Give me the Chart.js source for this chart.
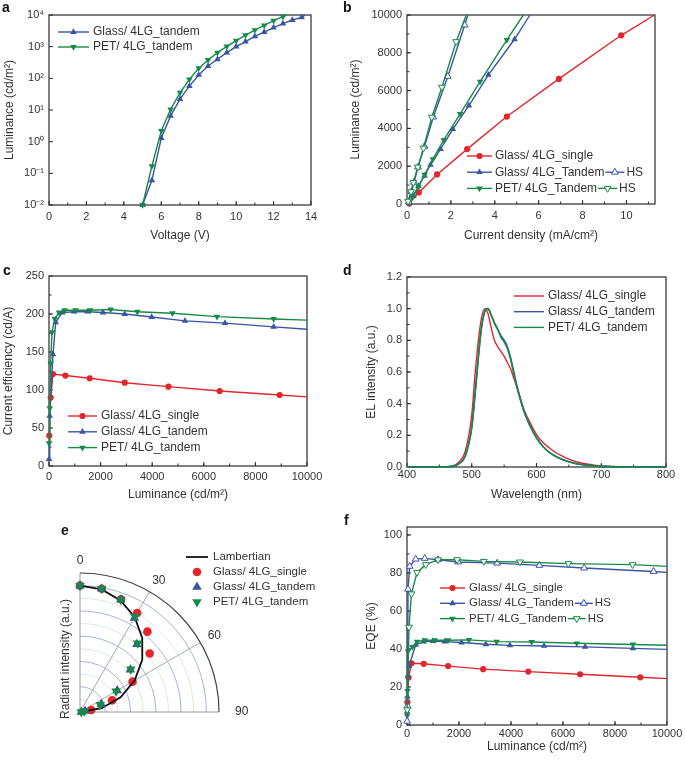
<!DOCTYPE html>
<html>
<head>
<meta charset="utf-8">
<script src="https://cdn.jsdelivr.net/npm/chart.js@4.4.0/dist/chart.umd.min.js"></script>
<style>
html, body { margin: 0; padding: 0; background: #fff; }
#fig { position: relative; width: 685px; height: 763px; overflow: hidden; font-family: "Liberation Sans", Arial, sans-serif; }
#fig canvas { position: absolute; }
.tag { position: absolute; font-weight: bold; font-size: 14px; line-height: 14px; color: #111; }
</style>
</head>
<body>
<div id="fig">
  <canvas id="chartA" width="340" height="250" style="left:0;top:0"></canvas>
  <canvas id="chartB" width="345" height="250" style="left:340px;top:0"></canvas>
  <canvas id="chartC" width="340" height="256" style="left:0;top:250px"></canvas>
  <canvas id="chartD" width="345" height="256" style="left:340px;top:250px"></canvas>
  <canvas id="chartE" width="340" height="263" style="left:0;top:500px"></canvas>
  <canvas id="chartF" width="345" height="263" style="left:340px;top:500px"></canvas>
  <div class="tag" style="left:2px;top:0">a</div>
  <div class="tag" style="left:343px;top:0">b</div>
  <div class="tag" style="left:3px;top:263px">c</div>
  <div class="tag" style="left:343px;top:263px">d</div>
  <div class="tag" style="left:61px;top:523px">e</div>
  <div class="tag" style="left:344px;top:513px">f</div>
</div>
<script>
// ---- colours ----
const RED = '#e3262d';
const BLUE = '#3a55a4';
const GREEN = '#188a48';

// ---- panel a: luminance vs voltage ----
const aVoltGlass = [5.0, 5.5, 6.0, 6.5, 7.0, 7.5, 8.0, 8.5, 9.0, 9.5, 10.0, 10.5, 11.0, 11.5, 12.0, 12.5, 13.0, 13.5, 13.7];
const aLumGlass = [0.01, 0.06, 1.3, 6.5, 22, 57, 128, 245, 400, 650, 1000, 1450, 2130, 2900, 4000, 5350, 6950, 8400, 10000];
const aVoltPet = [5.0, 5.5, 6.0, 6.5, 7.0, 7.5, 8.0, 8.5, 9.0, 9.5, 10.0, 10.5, 11.0, 11.5, 12.0, 12.5, 12.7];
const aLumPet = [0.01, 0.17, 2.2, 10.5, 35, 93, 208, 380, 650, 1020, 1550, 2300, 3350, 4700, 6600, 8900, 10000];
const aXTicks = [0, 2, 4, 6, 8, 10, 12, 14];
const aYTicks = [1e-2, 1e-1, 1, 10, 100, 1000, 10000];
const aYLabels = ['10\u207B\u00B2', '10\u207B\u00B9', '10\u2070', '10\u00B9', '10\u00B2', '10\u00B3', '10\u2074'];

// ---- panel b: luminance vs current density ----
const bJSingle = [0.1, 0.54, 1.37, 2.74, 4.55, 6.92, 9.76, 11.28];
const bLSingle = [20, 613, 1564, 2905, 4628, 6619, 8927, 10000];
const bJTandem = [0.12, 0.3, 0.52, 0.8, 1.07, 1.53, 2.09, 2.82, 3.71, 4.9, 5.6];
const bLTandem = [60, 420, 950, 1495, 2076, 2905, 3962, 5210, 6830, 8715, 10000];
const bJPet = [0.1, 0.27, 0.52, 0.8, 1.18, 1.68, 2.42, 3.33, 4.55, 5.3];
const bLPet = [50, 400, 930, 1550, 2377, 3397, 4770, 6478, 8680, 10000];
const bJTandemHS = [0.08, 0.2, 0.32, 0.5, 0.8, 1.2, 1.86, 2.63, 2.77];
const bLTandemHS = [100, 650, 1150, 1950, 3050, 4600, 6750, 9470, 10000];
const bJPetHS = [0.05, 0.18, 0.29, 0.49, 0.75, 1.13, 1.59, 2.24, 2.7];
const bLPetHS = [150, 650, 1145, 1954, 2958, 4595, 6180, 8591, 10000];
const bXTicks = [0, 2, 4, 6, 8, 10];
const bYTicks = [0, 2000, 4000, 6000, 8000, 10000];

// ---- panel c: current efficiency vs luminance ----
const cLSingle = [10, 66, 155, 636, 1578, 2934, 4628, 6616, 8942, 10000];
const cCESingle = [40, 90, 121, 119, 115.4, 109.6, 104.4, 98.7, 93.4, 91];
const cLTandem = [2, 27, 155, 260, 519, 969, 1488, 2093, 2934, 3981, 5271, 6822, 8709, 10000];
const cCETandem = [9, 66, 147, 189, 202, 203, 203, 202, 200, 196, 191, 188, 183, 180];
const cLPet = [1, 27, 66, 116, 221, 388, 609, 1035, 1604, 2391, 3426, 4783, 6512, 8709, 10000];
const cCEPet = [30, 76, 135, 176, 194, 202, 205, 205, 205, 206, 203, 201, 196.5, 193.4, 192];
const cXTicks = [0, 2000, 4000, 6000, 8000, 10000];
const cYTicks = [0, 50, 100, 150, 200, 250];

// ---- panel d: EL spectra ----
const dWave = [400, 450, 470, 480, 490, 500, 505, 510, 515, 520, 525, 530, 535, 540, 545, 550, 555, 560, 565, 570, 580, 590, 600, 610, 620, 630, 640, 650, 660, 680, 700, 740, 800];
const dSingle = [0, 0, 0.006, 0.03, 0.1, 0.33, 0.58, 0.79, 0.94, 1.0, 0.97, 0.88, 0.8, 0.76, 0.73, 0.7, 0.66, 0.62, 0.56, 0.5, 0.37, 0.28, 0.205, 0.155, 0.12, 0.09, 0.068, 0.05, 0.035, 0.017, 0.007, 0.001, 0];
const dTandem = [0, 0, 0.004, 0.02, 0.07, 0.25, 0.46, 0.69, 0.88, 0.98, 1.0, 0.96, 0.91, 0.87, 0.83, 0.8, 0.76, 0.69, 0.6, 0.51, 0.36, 0.26, 0.185, 0.13, 0.092, 0.066, 0.047, 0.033, 0.022, 0.01, 0.004, 0, 0];
const dPet = [0, 0, 0.004, 0.02, 0.07, 0.25, 0.45, 0.68, 0.88, 0.98, 1.0, 0.96, 0.91, 0.87, 0.82, 0.79, 0.75, 0.68, 0.59, 0.5, 0.36, 0.26, 0.185, 0.13, 0.092, 0.066, 0.047, 0.033, 0.022, 0.01, 0.004, 0, 0];
const dXTicks = [400, 500, 600, 700, 800];
const dYTicks = [0, 0.2, 0.4, 0.6, 0.8, 1.0, 1.2];

// ---- panel e: angular distribution ----
const eAngles = [0, 10, 20, 30, 40, 50, 60, 70, 80, 90];
const eLambertian = [1.0, 0.985, 0.94, 0.866, 0.766, 0.643, 0.5, 0.342, 0.174, 0];
const eSingle = [1.0, 0.99, 0.95, 0.905, 0.83, 0.72, 0.48, 0.27, 0.09];
const eTandem = [1.0, 0.99, 0.945, 0.86, 0.7, 0.52, 0.34, 0.18, 0.04, 0.01];
const ePet = [1.0, 0.99, 0.945, 0.87, 0.71, 0.525, 0.33, 0.17, 0.035, 0.01];
const eMajorRings = [0.2, 0.4, 0.6, 0.8, 1.0];
const eMinorRings = [0.1, 0.3, 0.5, 0.7, 0.9];
const eOuter = 1.1;
const eAngleLabels = [0, 30, 60, 90];

// ---- panel f: EQE vs luminance ----
const fLSingle = [15, 60, 170, 644, 1581, 2930, 4666, 6658, 8972, 10000];
const fEQESingle = [12, 25, 32.5, 32.2, 31, 29.4, 28.1, 26.7, 25.1, 24.4];
const fLTandem = [5, 15, 40, 77, 335, 644, 1003, 1453, 2097, 3034, 3959, 5270, 6851, 8689, 10000];
const fEQETandem = [7, 15, 26, 31, 42.2, 43.9, 44.2, 43.9, 43.4, 42.5, 41.9, 41.6, 41.1, 40.3, 39.8];
const fLPet = [5, 20, 40, 207, 385, 682, 1068, 1581, 2379, 3446, 4794, 6530, 8689, 10000];
const fEQEPet = [5, 18, 38.8, 41.1, 43.9, 44.6, 44.6, 44.6, 44.8, 43.9, 43.7, 43.0, 42.4, 42];
const fLTandemHS = [5, 20, 39, 103, 334, 681, 1195, 1967, 3470, 5090, 6812, 9486, 10000];
const fEQETandemHS = [2, 10, 71.5, 83.5, 87.3, 87.7, 87, 85.8, 85.2, 84, 82.6, 80.8, 80.3];
const fLPetHS = [5, 77, 170, 386, 720, 1195, 1928, 2956, 4344, 6208, 8676, 10000];
const fEQEPetHS = [8, 51.5, 69, 80.3, 84.4, 87, 87, 86.1, 85.8, 84.9, 84.4, 83.5];
const fXTicks = [0, 2000, 4000, 6000, 8000, 10000];
const fYTicks = [0, 20, 40, 60, 80, 100];

// ---- markers ----
const mCircle = { style: 'circle', r: 3.1 };
const mUp = { style: 'triangle', r: 3.8 };
const mDown = { style: 'triangle', rot: 180, r: 3.8 };
const mUpOpen = { style: 'triangle', r: 3.9, open: true };
const mDownOpen = { style: 'triangle', rot: 180, r: 3.9, open: true };

const FONT = '"Liberation Sans", Arial, sans-serif';
Chart.defaults.font.family = FONT;
Chart.defaults.color = '#333';

function xy(xs, ys) {
    return xs.map((x, i) => ({ x, y: ys[i] }));
}

// line + marker series; tail = last point only continues the line to the frame
function series(xs, ys, color, marker, tail) {
    const n = xs.length;
    return {
        data: xy(xs, ys),
        showLine: true,
        borderColor: color,
        borderWidth: 1.4,
        backgroundColor: marker ? (marker.open ? '#fff' : color) : color,
        pointBackgroundColor: marker ? (marker.open ? '#fff' : color) : color,
        pointBorderColor: color,
        pointBorderWidth: marker && marker.open ? 1 : 0,
        pointStyle: marker ? (marker.style === 'circle' ? 'circle' : 'triangle') : 'circle',
        pointRotation: marker && marker.rot ? marker.rot : 0,
        pointRadius: ctx => (!marker || (tail && ctx.dataIndex === n - 1)) ? 0 : marker.r,
        clip: false
    };
}

function drawMarker(ctx, m, x, y, color) {
    ctx.save();
    ctx.fillStyle = m.open ? '#fff' : color;
    ctx.strokeStyle = color;
    ctx.lineWidth = 1;
    ctx.beginPath();
    if (m.style === 'circle') {
        ctx.arc(x, y, m.r, 0, Math.PI * 2);
    } else {
        let a = (m.rot || 0) * Math.PI / 180;
        for (let k = 0; k < 3; k++) {
            const px = x + Math.sin(a) * m.r, py = y - Math.cos(a) * m.r;
            if (k === 0) ctx.moveTo(px, py); else ctx.lineTo(px, py);
            a += Math.PI * 2 / 3;
        }
        ctx.closePath();
    }
    ctx.fill();
    if (m.open) ctx.stroke();
    ctx.restore();
}

function drawKey(ctx, it, x, y, len) {
    if (it.line !== false) {
        ctx.strokeStyle = it.color;
        ctx.lineWidth = it.lw || 1.4;
        ctx.beginPath();
        ctx.moveTo(x, y);
        ctx.lineTo(x + len, y);
        ctx.stroke();
    }
    if (it.marker) drawMarker(ctx, it.marker, x + len / 2, y, it.color);
    return x + len;
}

// box frame with inward ticks on bottom and left axes
const axisFrame = {
    id: 'axisFrame',
    beforeDatasetsDraw(chart, args, opts) {
        if (!opts || !opts.enabled) return;
        const { ctx, chartArea: ca } = chart;
        const xs = chart.scales.x, ys = chart.scales.y;
        ctx.save();
        ctx.strokeStyle = '#2b2b2b';
        ctx.lineWidth = 1.2;
        ctx.strokeRect(ca.left, ca.top, ca.right - ca.left, ca.bottom - ca.top);
        ctx.lineWidth = 1;
        ctx.beginPath();
        xs.ticks.forEach(t => {
            const px = xs.getPixelForValue(t.value);
            ctx.moveTo(px, ca.bottom);
            ctx.lineTo(px, ca.bottom - 4);
        });
        if (opts.xMinor) {
            for (let v = xs.min + opts.xMinor; v < xs.max; v += opts.xMinor) {
                const px = xs.getPixelForValue(v);
                ctx.moveTo(px, ca.bottom);
                ctx.lineTo(px, ca.bottom - 2.5);
            }
        }
        ys.ticks.forEach(t => {
            const py = ys.getPixelForValue(t.value);
            ctx.moveTo(ca.left, py);
            ctx.lineTo(ca.left + 4, py);
        });
        if (opts.yMinor) {
            for (let v = ys.min + opts.yMinor; v < ys.max; v += opts.yMinor) {
                const py = ys.getPixelForValue(v);
                ctx.moveTo(ca.left, py);
                ctx.lineTo(ca.left + 2.5, py);
            }
        }
        ctx.stroke();
        ctx.restore();
    }
};

// legend drawn inside the plot, positions in canvas pixels
const panelLegend = {
    id: 'panelLegend',
    afterDatasetsDraw(chart, args, opts) {
        if (!opts || !opts.items) return;
        const { ctx } = chart;
        ctx.save();
        ctx.font = `${opts.fontSize || 12}px ${FONT}`;
        ctx.textBaseline = 'middle';
        opts.items.forEach((it, i) => {
            const y = opts.y + i * opts.rowH;
            const x = drawKey(ctx, it, opts.x, y, opts.lineLen);
            ctx.fillStyle = '#333';
            ctx.fillText(it.label, x + opts.gap, y);
            if (it.suffix) {
                const sx = x + opts.gap + ctx.measureText(it.label).width + 1;
                const ex = drawKey(ctx, it.suffix, sx, y, opts.suffixLen);
                ctx.fillStyle = '#333';
                ctx.fillText(it.suffix.label, ex + 2, y);
            }
        });
        ctx.restore();
    }
};

Chart.register(axisFrame, panelLegend);

function numLabel(v) {
    return String(v);
}

function panelConfig(p) {
    return {
        type: 'scatter',
        data: { datasets: p.datasets },
        options: {
            responsive: false,
            animation: false,
            devicePixelRatio: 1,
            layout: { padding: { left: 0, top: p.top, right: p.right, bottom: 0 } },
            plugins: {
                legend: { display: false },
                tooltip: { enabled: false },
                axisFrame: { enabled: true, xMinor: p.xMinor, yMinor: p.yMinor },
                panelLegend: p.legend
            },
            scales: {
                x: {
                    type: 'linear',
                    min: p.xMin,
                    max: p.xMax,
                    afterBuildTicks: s => { s.ticks = p.xTicks.map(v => ({ value: v })); },
                    afterFit: s => { s.height = p.xAxisH; },
                    grid: { display: false, drawTicks: false },
                    border: { display: false },
                    ticks: { font: { size: 11 }, color: '#333', padding: p.xTickPad, maxRotation: 0, autoSkip: false, callback: numLabel },
                    title: { display: true, text: p.xTitle, font: { size: 12 }, color: '#333', padding: { top: 0, bottom: p.xTitlePad } }
                },
                y: {
                    type: p.yType || 'linear',
                    min: p.yMin,
                    max: p.yMax,
                    afterBuildTicks: s => { s.ticks = p.yTicks.map(v => ({ value: v })); },
                    afterFit: s => { s.width = p.yAxisW; },
                    grid: { display: false, drawTicks: false },
                    border: { display: false },
                    ticks: { font: { size: 11 }, color: '#333', padding: 5, autoSkip: false, callback: p.yLabel || numLabel },
                    title: { display: true, text: p.yTitle, font: { size: 12 }, color: '#333', padding: { top: p.yTitlePad, bottom: 0 } }
                }
            }
        }
    };
}

// panel a
new Chart(document.getElementById('chartA'), panelConfig({
    datasets: [
        series(aVoltPet, aLumPet, GREEN, mDown, true),
        series(aVoltGlass, aLumGlass, BLUE, mUp, true)
    ],
    top: 15, right: 29, yAxisW: 49, xAxisH: 45,
    xMin: 0, xMax: 14, xTicks: aXTicks, xMinor: 1, xTickPad: 5,
    yType: 'logarithmic', yMin: 0.01, yMax: 10000, yTicks: aYTicks,
    yLabel: (v, i) => aYLabels[i],
    xTitle: 'Voltage (V)', xTitlePad: 7,
    yTitle: 'Luminance (cd/m\u00B2)', yTitlePad: 2,
    legend: {
        x: 58, y: 32, rowH: 15, lineLen: 31, gap: 4, fontSize: 12,
        items: [
            { label: 'Glass/ 4LG_tandem', color: BLUE, marker: mUp },
            { label: 'PET/ 4LG_tandem', color: GREEN, marker: mDown }
        ]
    }
}));

// panel b
new Chart(document.getElementById('chartB'), panelConfig({
    datasets: [
        series(bJPetHS, bLPetHS, GREEN, mDownOpen, true),
        series(bJTandemHS, bLTandemHS, BLUE, mUpOpen, true),
        series(bJPet, bLPet, GREEN, mDown, true),
        series(bJTandem, bLTandem, BLUE, mUp, true),
        series(bJSingle, bLSingle, RED, mCircle, true)
    ],
    top: 15, right: 30, yAxisW: 67, xAxisH: 46,
    xMin: 0, xMax: 11.3, xTicks: bXTicks, xMinor: 1, xTickPad: 5,
    yMin: 0, yMax: 10000, yTicks: bYTicks, yMinor: 1000,
    xTitle: 'Current density (mA/cm\u00B2)', xTitlePad: 7,
    yTitle: 'Luminance (cd/m\u00B2)', yTitlePad: 8,
    legend: {
        x: 127, y: 156, rowH: 16.2, lineLen: 25, gap: 3, fontSize: 12, suffixLen: 19,
        items: [
            { label: 'Glass/ 4LG_single', color: RED, marker: mCircle },
            { label: 'Glass/ 4LG_Tandem', color: BLUE, marker: mUp,
              suffix: { label: 'HS', color: BLUE, marker: mUpOpen } },
            { label: 'PET/ 4LG_Tandem', color: GREEN, marker: mDown,
              suffix: { label: 'HS', color: GREEN, marker: mDownOpen } }
        ]
    }
}));

// panel c
new Chart(document.getElementById('chartC'), panelConfig({
    datasets: [
        series(cLPet, cCEPet, GREEN, mDown, true),
        series(cLTandem, cCETandem, BLUE, mUp, true),
        series(cLSingle, cCESingle, RED, mCircle, true)
    ],
    top: 26, right: 33, yAxisW: 49, xAxisH: 40,
    xMin: 0, xMax: 10000, xTicks: cXTicks, xMinor: 1000, xTickPad: 4,
    yMin: 0, yMax: 250, yTicks: cYTicks, yMinor: 25,
    xTitle: 'Luminance (cd/m\u00B2)', xTitlePad: 4,
    yTitle: 'Current efficiency (cd/A)', yTitlePad: 1,
    legend: {
        x: 68, y: 166, rowH: 15.8, lineLen: 29, gap: 4, fontSize: 12,
        items: [
            { label: 'Glass/ 4LG_single', color: RED, marker: mCircle },
            { label: 'Glass/ 4LG_tandem', color: BLUE, marker: mUp },
            { label: 'PET/ 4LG_tandem', color: GREEN, marker: mDown }
        ]
    }
}));

// panel d
new Chart(document.getElementById('chartD'), panelConfig({
    datasets: [
        Object.assign(series(dWave, dPet, GREEN, null, false), { borderWidth: 1.6, cubicInterpolationMode: 'monotone' }),
        Object.assign(series(dWave, dTandem, BLUE, null, false), { borderWidth: 1.6, cubicInterpolationMode: 'monotone' }),
        Object.assign(series(dWave, dSingle, RED, null, false), { borderWidth: 1.4, cubicInterpolationMode: 'monotone' })
    ],
    top: 27, right: 19, yAxisW: 67, xAxisH: 39,
    xMin: 400, xMax: 800, xTicks: dXTicks, xMinor: 50, xTickPad: 1,
    yMin: 0, yMax: 1.2, yTicks: dYTicks, yMinor: 0.1,
    yLabel: v => v.toFixed(1),
    xTitle: 'Wavelength (nm)', xTitlePad: 4,
    yTitle: 'EL intensity (a.u.)', yTitlePad: 24,
    legend: {
        x: 174, y: 46, rowH: 15.7, lineLen: 30, gap: 4, fontSize: 12,
        items: [
            { label: 'Glass/ 4LG_single', color: RED },
            { label: 'Glass/ 4LG_tandem', color: BLUE },
            { label: 'PET/ 4LG_tandem', color: GREEN }
        ]
    }
}));

// panel f (tick spacing in the original leaves some room above 100)
new Chart(document.getElementById('chartF'), panelConfig({
    datasets: [
        series(fLPetHS, fEQEPetHS, GREEN, mDownOpen, true),
        series(fLTandemHS, fEQETandemHS, BLUE, mUpOpen, true),
        series(fLPet, fEQEPet, GREEN, mDown, true),
        series(fLTandem, fEQETandem, BLUE, mUp, true),
        series(fLSingle, fEQESingle, RED, mCircle, true)
    ],
    top: 27, right: 18, yAxisW: 67, xAxisH: 38,
    xMin: 0, xMax: 10000, xTicks: fXTicks, xMinor: 1000, xTickPad: 2,
    yMin: 0, yMax: 104.2, yTicks: fYTicks, yMinor: 10,
    xTitle: 'Luminance (cd/m\u00B2)', xTitlePad: 9,
    yTitle: 'EQE (%)', yTitlePad: 24,
    legend: {
        x: 100, y: 88, rowH: 15.3, lineLen: 25, gap: 4, fontSize: 11.5, suffixLen: 18,
        items: [
            { label: 'Glass/ 4LG_single', color: RED, marker: mCircle },
            { label: 'Glass/ 4LG_Tandem', color: BLUE, marker: mUp,
              suffix: { label: 'HS', color: BLUE, marker: mUpOpen } },
            { label: 'PET/ 4LG_Tandem', color: GREEN, marker: mDown,
              suffix: { label: 'HS', color: GREEN, marker: mDownOpen } }
        ]
    }
}));

// panel e: quarter polar plot drawn on a square scatter area
function polarPoints(radii) {
    return radii.map((r, i) => {
        const a = eAngles[i] * Math.PI / 180;
        return { x: r * Math.sin(a), y: r * Math.cos(a) };
    });
}

const eRed = { style: 'circle', r: 4.3 };
const eUp = { style: 'triangle', r: 5.5 };
const eDown = { style: 'triangle', rot: 180, r: 5.5 };

const polarGrid = {
    id: 'polarGrid',
    beforeDatasetsDraw(chart) {
        const { ctx } = chart;
        const xs = chart.scales.x, ys = chart.scales.y;
        const cx = xs.getPixelForValue(0), cy = ys.getPixelForValue(0);
        const rad = r => xs.getPixelForValue(r) - cx;
        const ring = (r, color, lw) => {
            ctx.strokeStyle = color;
            ctx.lineWidth = lw;
            ctx.beginPath();
            ctx.arc(cx, cy, rad(r), -Math.PI / 2, 0);
            ctx.stroke();
        };
        const spoke = (deg, color) => {
            const a = deg * Math.PI / 180, R = rad(eOuter);
            ctx.strokeStyle = color;
            ctx.lineWidth = 1;
            ctx.beginPath();
            ctx.moveTo(cx, cy);
            ctx.lineTo(cx + Math.sin(a) * R, cy - Math.cos(a) * R);
            ctx.stroke();
        };
        ctx.save();
        eMinorRings.forEach(r => ring(r, '#d3e3d3', 0.8));
        eMajorRings.forEach(r => ring(r, '#9aabd3', 0.9));
        spoke(30, '#a8a8a8');
        spoke(60, '#a8a8a8');
        spoke(0, '#9a9a9a');
        spoke(90, '#9a9a9a');
        ring(eOuter, '#444', 1.2);
        ctx.fillStyle = '#333';
        ctx.font = `12px ${FONT}`;
        ctx.textAlign = 'center';
        ctx.textBaseline = 'middle';
        eAngleLabels.forEach(deg => {
            const a = deg * Math.PI / 180, R = rad(1.2);
            const dx = deg === 90 ? 10 : (deg === 0 ? 0 : 3);
            ctx.fillText(String(deg), cx + Math.sin(a) * R + dx, cy - Math.cos(a) * R);
        });
        ctx.save();
        ctx.translate(cx - 14, cy - rad(0.42));
        ctx.rotate(-Math.PI / 2);
        ctx.fillText('Radiant intensity (a.u.)', 0, 0);
        ctx.restore();
        ctx.restore();
    }
};

function polarSeries(radii, color, m) {
    return {
        data: polarPoints(radii),
        showLine: false,
        pointStyle: m.style === 'circle' ? 'circle' : 'triangle',
        pointRotation: m.rot || 0,
        pointRadius: m.r,
        pointBackgroundColor: color,
        pointBorderWidth: 0,
        clip: false
    };
}

new Chart(document.getElementById('chartE'), {
    type: 'scatter',
    data: {
        datasets: [
            polarSeries(ePet, GREEN, eDown),
            polarSeries(eTandem, BLUE, eUp),
            { data: polarPoints(eLambertian), showLine: true, borderColor: '#111', borderWidth: 1.8, pointRadius: 0, clip: false },
            polarSeries(eSingle, RED, eRed)
        ]
    },
    options: {
        responsive: false,
        animation: false,
        devicePixelRatio: 1,
        layout: { padding: { left: 80, top: 73, right: 121, bottom: 51 } },
        plugins: {
            legend: { display: false },
            tooltip: { enabled: false },
            panelLegend: {
                x: 186, y: 57, rowH: 15, lineLen: 22, gap: 5, fontSize: 11.5,
                items: [
                    { label: 'Lambertian', color: '#111', lw: 1.8 },
                    { label: 'Glass/ 4LG_single', color: RED, line: false, marker: eRed },
                    { label: 'Glass/ 4LG_tandem', color: BLUE, line: false, marker: eUp },
                    { label: 'PET/ 4LG_tandem', color: GREEN, line: false, marker: eDown }
                ]
            }
        },
        scales: {
            x: { type: 'linear', min: 0, max: eOuter, display: false },
            y: { type: 'linear', min: 0, max: eOuter, display: false }
        }
    },
    plugins: [polarGrid]
});
</script>
</body>
</html>
